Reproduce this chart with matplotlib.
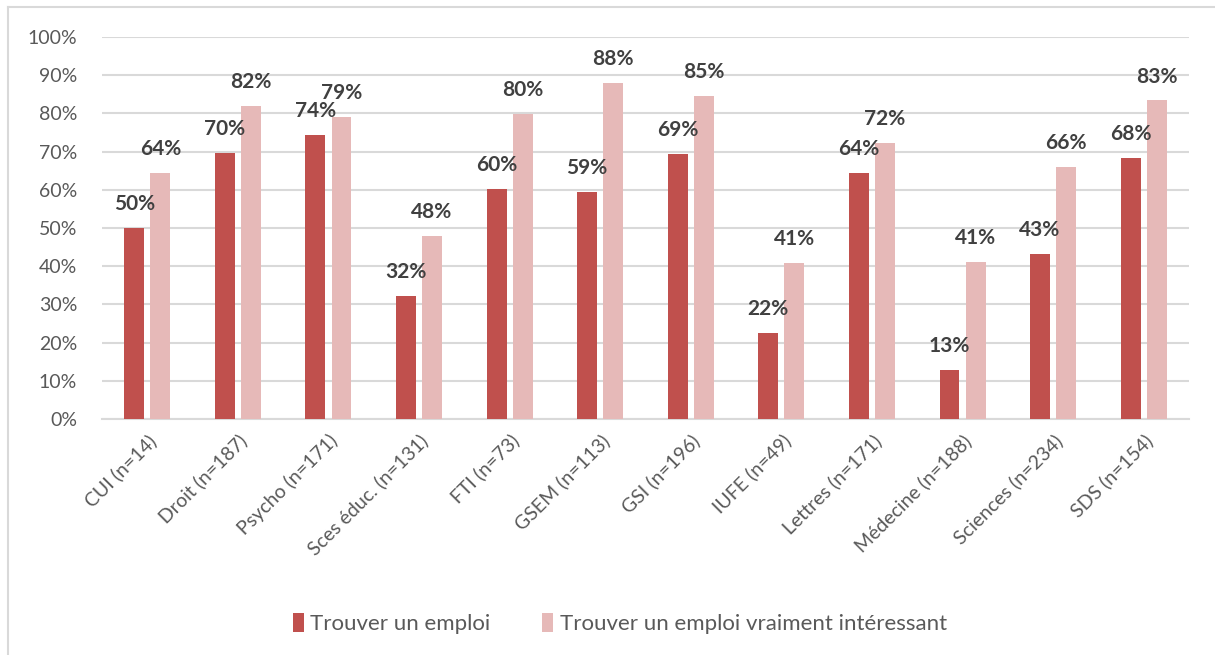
import matplotlib.pyplot as plt
from matplotlib.lines import Line2D
import numpy as np

#   Data
CATEGORIES = ["CUI (n=14)", "Droit (n=187)", "Psycho (n=171)", "Sces éduc. (n=131)",
              "FTI (n=73)", "GSEM (n=113)", "GSI (n=196)", "IUFE (n=49)",
              "Lettres (n=171)", "Médecine (n=188)", "Sciences (n=234)", "SDS (n=154)"]
EMPLOI = [49.9, 69.6, 74.3, 32.2, 60.2, 59.4, 69.4, 22.5, 64.4, 12.8, 43.2, 68.3]
INTERESSANT = [64.3, 81.9, 79.1, 47.9, 79.8, 88.0, 84.6, 40.8, 72.3, 41.1, 66.0, 83.4]
SERIES = ["Trouver un emploi", "Trouver un emploi vraiment intéressant"]

#   Settings
COL_DARK = "#C0504D"
COL_LIGHT = "#E6B9B8"
GRID_COL = "#D9D9D9"
plt.rcParams['font.family'] = ['Lato', 'DejaVu Sans']

fig = plt.figure(figsize=(12.15, 6.55), dpi=100)
ax = fig.add_axes([102 / 1215, 1 - 419 / 655, (1189 - 102) / 1215, (419 - 37) / 655])

x = np.arange(len(CATEGORIES))
w = 0.22
off = 0.144
b1 = ax.bar(x - off, EMPLOI, w, color=COL_DARK, label=SERIES[0], zorder=3)
b2 = ax.bar(x + off, INTERESSANT, w, color=COL_LIGHT, label=SERIES[1], zorder=3)

for bars in (b1, b2):
    for rect in bars:
        h = rect.get_height()
        ax.annotate("%d%%" % round(h), (rect.get_x() + rect.get_width() / 2, h),
                    xytext=(0, 10), textcoords="offset points", ha="center", va="bottom",
                    fontsize=15, fontweight="bold", color="#404040")

ax.set_xlim(-0.5, len(CATEGORIES) - 0.5)
ax.set_ylim(0, 100)
ax.set_yticks(range(0, 101, 10))
ax.set_yticklabels(["%d%%" % v for v in range(0, 101, 10)])
ax.yaxis.grid(True, color=GRID_COL, linewidth=1.5, zorder=0)
ax.set_xticks(x)
ax.set_xticklabels(CATEGORIES, rotation=45, ha="right", rotation_mode="anchor")
ax.tick_params(axis="both", length=0, labelsize=14, labelcolor="#595959")
ax.tick_params(axis="x", pad=9)
ax.tick_params(axis="y", pad=18)
for s in ["top", "right", "left"]:
    ax.spines[s].set_visible(False)
ax.spines["bottom"].set_color(GRID_COL)
ax.spines["bottom"].set_linewidth(1.5)

leg = fig.legend(loc="center", bbox_to_anchor=(0.51, 0.048), ncol=2, frameon=False,
                 fontsize=16, handlelength=0.5, handleheight=0.9, handletextpad=0.3,
                 columnspacing=2.3)
for t in leg.get_texts():
    t.set_color("#595959")

# chart border
fig.add_artist(Line2D([8 / 1215, 8 / 1215], [0, 1 - 7 / 655], color=GRID_COL, lw=1.5))
fig.add_artist(Line2D([8 / 1215, 1], [1 - 7 / 655, 1 - 7 / 655], color=GRID_COL, lw=1.5))

plt.savefig("out.png", dpi=100)
plt.close()
